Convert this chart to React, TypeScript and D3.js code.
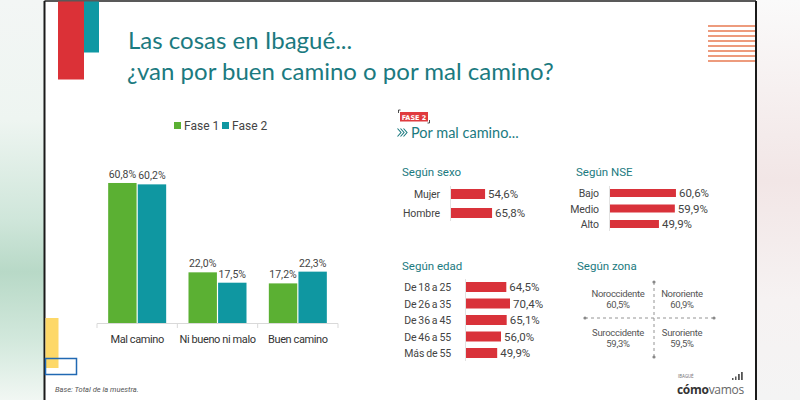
import React from "react";
import * as d3 from "d3";

// main chart
const categories = ["Mal camino", "Ni bueno ni malo", "Buen camino"];
const seriesNames = ["Fase 1", "Fase 2"];
const fase1 = [60.8, 22.0, 17.2];
const fase2 = [60.2, 17.5, 22.3];

// "por mal camino" breakdowns (fase 2)
const sexoLabels = ["Mujer", "Hombre"];
const sexoValues = [54.6, 65.8];
const nseLabels = ["Bajo", "Medio", "Alto"];
const nseValues = [60.6, 59.9, 49.9];
const edadLabels = ["De 18 a 25", "De 26 a 35", "De 36 a 45", "De 46 a 55", "Más de 55"];
const edadValues = [64.5, 70.4, 65.1, 56.0, 49.9];
const zonaLabels = ["Noroccidente", "Nororiente", "Suroccidente", "Suroriente"];
const zonaValues = [60.5, 60.9, 59.3, 59.5];

const TEAL_TXT = "#1b7a80";
const GREEN = "#5bb033";
const TEAL = "#0f97a1";
const RED = "#d9323a";
const FONT = "Roboto, sans-serif";
const fmt = (v: number) => v.toFixed(1).replace(".", ",") + "%";

interface HBarProps {
  labels: string[];
  values: number[];
  x: d3.ScaleLinear<number, number>;
  yFirst: number;
  yLast: number;
  barH: number;
  labelX: number;
}

function HBars({ labels, values, x, yFirst, yLast, barH, labelX }: HBarProps) {
  const y = d3.scalePoint<string>().domain(labels).range([yFirst, yLast]);
  const x0 = x.range()[0];
  return (
    <g fontFamily={FONT} fill="#444">
      <line x1={x0 - 0.5} x2={x0 - 0.5} y1={yFirst - barH / 2 - 3} y2={yLast + barH / 2 + 3} stroke="#e2e2e2" />
      {labels.map((l, i) => (
        <g key={l}>
          <text x={labelX} y={y(l)! + 4} textAnchor="end" fontSize={10.5} wordSpacing={-0.6} letterSpacing={-0.1}>{l}</text>
          <rect x={x0} y={y(l)! - barH / 2} width={x(values[i]) - x0} height={barH} fill={RED} />
          <text x={x(values[i]) + 3} y={y(l)! + 4} fontSize={11.5}>{fmt(values[i])}</text>
        </g>
      ))}
    </g>
  );
}

export default function App() {
  // grouped bar chart scales
  const x = d3.scaleBand<string>().domain(categories).range([97, 338]);
  const xs = d3.scaleBand<string>().domain(seriesNames).range([0, 58]).paddingInner(0.04);
  const y = d3.scaleLinear().domain([0, 70]).range([323, 161.8]);
  const data = [fase1, fase2];
  const colors = [GREEN, TEAL];

  const sexoX = d3.scaleLinear().domain([0, 100]).range([451, 513.4]);
  const nseX = d3.scaleLinear().domain([19.1, 70]).range([610, 610 + 50.9 * 1.589]);
  const edadX = d3.scaleLinear().domain([0, 100]).range([466, 528.5]);

  const zx = [618, 682];
  const zy = [294, 333];

  const stripes = d3.range(8).map((i) => 26 + i * 5);

  return (
    <svg width={800} height={400} style={{ position: "absolute", left: 0, top: 0 }}>
      <defs>
        <linearGradient id="lbg" x1="0" y1="0" x2="0" y2="1">
          <stop offset="0" stopColor="#f3f6f5" />
          <stop offset="0.3" stopColor="#eef5f1" />
          <stop offset="0.55" stopColor="#cfe6da" />
          <stop offset="0.68" stopColor="#b8d9c7" />
          <stop offset="0.85" stopColor="#d2e8dc" />
          <stop offset="1" stopColor="#f1f7f3" />
        </linearGradient>
        <linearGradient id="rbg" x1="0" y1="0" x2="0" y2="1">
          <stop offset="0" stopColor="#fafafa" />
          <stop offset="0.45" stopColor="#f2e6e6" />
          <stop offset="0.75" stopColor="#f6f2f2" />
          <stop offset="1" stopColor="#f4f4f4" />
        </linearGradient>
      </defs>
      <rect x={0} y={0} width={45} height={400} fill="url(#lbg)" />
      <rect x={756} y={0} width={44} height={400} fill="url(#rbg)" />
      <rect x={45} y={1} width={711} height={399} fill="#fff" />
      <line x1={44.5} x2={756} y1={1} y2={1} stroke="#222" strokeWidth={1.5} />
      <line x1={44.5} x2={44.5} y1={1} y2={400} stroke="#1a1a1a" strokeWidth={2} />
      <line x1={756} x2={756} y1={1} y2={400} stroke="#1a1a1a" strokeWidth={2} />

      {/* decorations */}
      <rect x={58} y={1.5} width={26} height={78} fill="#db3137" />
      <rect x={84} y={1.5} width={15} height={51} fill="#0f98a3" />
      {stripes.map((s) => (
        <line key={s} x1={708} x2={755} y1={s} y2={s} stroke="#e77a52" strokeWidth={1.4} />
      ))}
      <rect x={45.5} y={318} width={13} height={50} fill="#fdd868" />
      <rect x={45.5} y={358.5} width={31} height={16} fill="none" stroke="#2169b3" strokeWidth={1.5} />

      {/* title */}
      <g fontFamily="Lato, 'Open Sans', sans-serif" fontSize={24} fill={TEAL_TXT}>
        <text x={128} y={49}>Las cosas en Ibagué...</text>
        <text x={127} y={80}>¿van por buen camino o por mal camino?</text>
      </g>

      {/* legend */}
      <g fontFamily={FONT} fontSize={12} fill="#444">
        {seriesNames.map((s, i) => (
          <g key={s} transform={`translate(${174 + i * 48},0)`}>
            <rect x={0} y={122} width={7} height={7} fill={colors[i]} />
            <text x={10} y={130}>{s}</text>
          </g>
        ))}
      </g>

      {/* grouped bars */}
      <g>
        {categories.map((c, ci) => (
          <g key={c} transform={`translate(${x(c)! + x.bandwidth() / 2 - 29},0)`}>
            {seriesNames.map((s, si) => (
              <g key={s}>
                <rect x={xs(s)} y={y(data[si][ci])} width={xs.bandwidth()} height={y(0) - y(data[si][ci])} fill={colors[si]} />
                <text x={xs(s)! + xs.bandwidth() / 2} y={y(data[si][ci]) - 5} textAnchor="middle" fontFamily={FONT} fontSize={10.5} fill="#444">
                  {fmt(data[si][ci])}
                </text>
              </g>
            ))}
          </g>
        ))}
        <line x1={97} x2={338} y1={323.5} y2={323.5} stroke="#d9d9d9" />
        {[...categories.map((c) => x(c)!), 338].map((t, i) => (
          <line key={i} x1={t} x2={t} y1={323.5} y2={328} stroke="#d9d9d9" />
        ))}
        {categories.map((c) => (
          <text key={c} x={x(c)! + x.bandwidth() / 2} y={343} textAnchor="middle" fontFamily={FONT} fontSize={11} letterSpacing={-0.4} fill="#333">
            {c}
          </text>
        ))}
      </g>

      {/* fase 2 badge and subtitle */}
      <rect x={400} y={112} width={28} height={9.5} fill="#e03a3e" />
      <text x={414} y={119.5} textAnchor="middle" fontFamily="'DejaVu Sans', sans-serif" fontWeight="bold" fontSize={6.5} fill="#fff">FASE 2</text>
      <path d="M398.5,113 v-3 h2" fill="none" stroke="#222" strokeWidth={0.8} />
      <path d="M429.5,120 v3 h-2" fill="none" stroke="#222" strokeWidth={0.8} />
      <g fill="none" stroke={TEAL_TXT} strokeWidth={1.1}>
        <path d="M397.5,128.5 l3.5,4 l-3.5,4" />
        <path d="M400.5,128.5 l3.5,4 l-3.5,4" />
        <path d="M403.5,128.5 l3.5,4 l-3.5,4" />
      </g>
      <text x={411} y={137.5} fontFamily="Lato, 'Open Sans', sans-serif" fontSize={14.5} fill={TEAL_TXT}>Por mal camino...</text>

      {/* section titles */}
      <g fontFamily={FONT} fontSize={11.5} fill={TEAL_TXT}>
        <text x={402} y={176}>Según sexo</text>
        <text x={576} y={176}>Según NSE</text>
        <text x={402} y={270}>Según edad</text>
        <text x={577} y={270}>Según zona</text>
      </g>

      <HBars labels={sexoLabels} values={sexoValues} x={sexoX} yFirst={194} yLast={213} barH={10} labelX={440} />
      <HBars labels={nseLabels} values={nseValues} x={nseX} yFirst={193} yLast={224} barH={8} labelX={599} />
      <HBars labels={edadLabels} values={edadValues} x={edadX} yFirst={287} yLast={353} barH={10} labelX={451} />

      {/* zona quadrants */}
      <g stroke="#888" strokeWidth={0.9} strokeDasharray="3,3">
        <line x1={654} x2={654} y1={282} y2={357} />
        <line x1={585} x2={714} y1={318} y2={318} />
      </g>
      <g fill="#888">
        <circle cx={654} cy={282} r={1.6} />
        <circle cx={654} cy={357} r={1.6} />
        <circle cx={585} cy={318} r={1.6} />
        <circle cx={714} cy={318} r={1.6} />
      </g>
      <g fontFamily={FONT} fontSize={9.5} letterSpacing={-0.3} fill="#555" textAnchor="middle">
        {zonaLabels.map((z, i) => (
          <g key={z}>
            <text x={zx[i % 2]} y={zy[Math.floor(i / 2)] + 3}>{z}</text>
            <text x={zx[i % 2]} y={zy[Math.floor(i / 2)] + 14}>{fmt(zonaValues[i])}</text>
          </g>
        ))}
      </g>

      {/* footer */}
      <text x={55} y={392} fontFamily={FONT} fontStyle="italic" fontSize={7.5} fill="#555">Base: Total de la muestra.</text>
      <text x={678} y={378} fontFamily={FONT} fontSize={4.5} fill="#777">IBAGUÉ</text>
      <g fill="#555">
        <rect x={732} y={378} width={1.5} height={2} />
        <rect x={735} y={376.5} width={1.5} height={3.5} />
        <rect x={738} y={374} width={1.8} height={6} />
        <rect x={741} y={372} width={1.8} height={8} />
      </g>
      <text x={677} y={394} fontFamily="'Open Sans', sans-serif" fontSize={12} letterSpacing={-0.3}>
        <tspan fontWeight="bold" fill="#333">cómo</tspan>
        <tspan fill="#666">vamos</tspan>
      </text>
    </svg>
  );
}
